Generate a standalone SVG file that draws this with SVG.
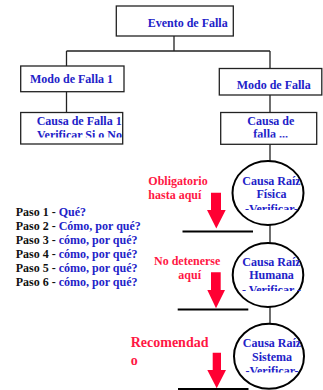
<svg xmlns="http://www.w3.org/2000/svg" width="323" height="390" viewBox="0 0 323 390">
<defs>
<style>
text{font-family:"Liberation Serif","Times New Roman",serif;font-weight:bold;font-size:12px}
.b{fill:#2222C8}
.k{fill:#111}
.r{fill:#FF1744}
.box{fill:#fff;stroke:#222;stroke-width:1.3}
.ell{fill:#fff;stroke:#000;stroke-width:2}
.ln{stroke:#222;stroke-width:1.3;fill:none}
.bar{stroke:#000;stroke-width:2.2}
.arr{fill:#FF0033}
.c{text-anchor:middle}
</style>
<clipPath id="c1"><rect x="20" y="112" width="104" height="25.5"/></clipPath>
<clipPath id="c2"><rect x="220" y="112" width="98" height="25.5"/></clipPath>
<clipPath id="e1"><rect x="230" y="160" width="80" height="50"/></clipPath>
<clipPath id="e2"><rect x="230" y="240" width="80" height="51"/></clipPath>
<clipPath id="e3"><rect x="230" y="320" width="80" height="52.5"/></clipPath>
</defs>

<g id="connectors">
<path class="ln" d="M174,36 V51 M66.5,51 H270 M66.5,51 V66 M270,51 V68.5 M66.5,92 V112.5 M270,95 V112.5 M270,144 V161 M270,225 V243 M270,307 V323.5"/>
</g>

<g id="evento">
<rect class="box" x="116.3" y="6" width="117" height="30"/>
<text class="b" x="147.7" y="27">Evento de Falla</text>
</g>

<g id="modo1">
<rect class="box" x="20.7" y="66" width="103.3" height="25.7"/>
<text class="b" x="30" y="83">Modo de Falla 1</text>
</g>

<g id="modo2">
<rect class="box" x="219.3" y="68.5" width="102.5" height="26.5"/>
<text class="b" x="236.7" y="88.5">Modo de Falla</text>
</g>

<g id="causa1">
<rect class="box" x="20.7" y="112.5" width="102" height="31.5"/>
<g clip-path="url(#c1)">
<text class="b" x="36.7" y="125">Causa de Falla 1</text>
<text class="b" x="37" y="139">Verificar Si o No</text>
</g>
</g>

<g id="causa2">
<rect class="box" x="220.7" y="112.5" width="96" height="31.8"/>
<g clip-path="url(#c2)">
<text class="b" x="247.3" y="124.5">Causa de</text>
<text class="b" x="253.3" y="137.5">falla ...</text>
</g>
</g>

<g id="fisica">
<ellipse class="ell" cx="268" cy="193" rx="35.5" ry="32"/>
<text class="b c" x="271.5" y="184.5">Causa Raíz</text>
<text class="b c" x="271.5" y="197.5">Física</text>
<g clip-path="url(#e1)"><text class="b c" x="271.5" y="212.5">-Verificar-</text></g>
</g>

<g id="humana">
<ellipse class="ell" cx="268" cy="275" rx="35.3" ry="32"/>
<text class="b c" x="271.5" y="266">Causa Raíz</text>
<text class="b c" x="271.5" y="279">Humana</text>
<g clip-path="url(#e2)"><text class="b c" x="271.5" y="293.5">- Verificar -</text></g>
</g>

<g id="sistema">
<ellipse class="ell" cx="269" cy="356.3" rx="35" ry="32.5"/>
<text class="b c" x="272" y="347">Causa Raíz</text>
<text class="b c" x="272" y="360.5">Sistema</text>
<g clip-path="url(#e3)"><text class="b c" x="272" y="375">-Verificar-</text></g>
</g>

<g id="obligatorio">
<text class="r" x="148.3" y="185">Obligatorio</text>
<text class="r" x="148.3" y="198.5">hasta aquí</text>
<polygon class="arr" points="211,192.7 221,192.7 221,210 225.7,210 216.3,228.5 207,210 211,210"/>
<line class="bar" x1="182.5" y1="231.5" x2="253" y2="231.5"/>
</g>

<g id="nodetenerse">
<text class="r" x="154" y="265">No detenerse</text>
<text class="r" x="178.3" y="278.5">aquí</text>
<polygon class="arr" points="211,272.3 220.7,272.3 220.7,290 225,290 216,308.3 207.3,290 211,290"/>
<line class="bar" x1="177.7" y1="309.5" x2="248.3" y2="309.5"/>
</g>

<g id="recomendado">
<text class="r" x="130.7" y="346.7" style="font-size:14px">Recomendad</text>
<text class="r" x="130.7" y="365" style="font-size:14px">o</text>
<polygon class="arr" points="212.7,352.7 221,352.7 221,370 226,370 216.7,388.3 207.3,370 212.7,370"/>
<line class="bar" x1="178" y1="389" x2="248.5" y2="389"/>
</g>

<g id="pasos">
<text x="15.7" y="215.5"><tspan class="k">Paso 1 - </tspan><tspan class="b">Qué?</tspan></text>
<text x="15.7" y="229.5"><tspan class="k">Paso 2 - </tspan><tspan class="b">Cómo, por qué?</tspan></text>
<text x="15.7" y="243.5"><tspan class="k">Paso 3 - </tspan><tspan class="b">cómo, por qué?</tspan></text>
<text x="15.7" y="257.5"><tspan class="k">Paso 4 - </tspan><tspan class="b">cómo, por qué?</tspan></text>
<text x="15.7" y="271.5"><tspan class="k">Paso 5 - </tspan><tspan class="b">cómo, por qué?</tspan></text>
<text x="15.7" y="285.5"><tspan class="k">Paso 6 - </tspan><tspan class="b">cómo, por qué?</tspan></text>
</g>
</svg>
